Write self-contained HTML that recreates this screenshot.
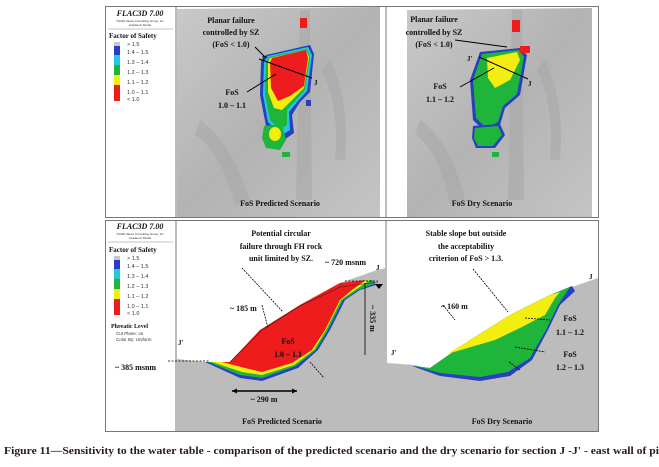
<!DOCTYPE html>
<html><head><meta charset="utf-8"><style>
body{margin:0;background:#fff;width:659px;height:467px;overflow:hidden}
svg{display:block}
.b{font-family:"Liberation Serif",serif;font-weight:bold;fill:#111}
.s{font-family:"Liberation Sans",sans-serif;fill:#333}
</style></head><body>
<svg width="659" height="467" viewBox="0 0 659 467">
<defs>
<linearGradient id="gmap" x1="0" y1="0" x2="1" y2="1">
<stop offset="0" stop-color="#c9c9c9"/><stop offset="0.5" stop-color="#b3b3b3"/><stop offset="1" stop-color="#c4c4c4"/></linearGradient>
</defs>
<g>
<rect x="105.5" y="6.5" width="493" height="211" fill="#fff" stroke="#777"/>
<line x1="176" y1="6" x2="176" y2="217" stroke="#777"/>
<line x1="386" y1="6" x2="386" y2="217" stroke="#777"/>
<g>
<text class="b" x="140" y="16" font-size="8" font-style="italic" text-anchor="middle">FLAC3D 7.00</text>
<text class="s" x="140" y="22" font-size="3" text-anchor="middle">©2020 Itasca Consulting Group, Inc</text>
<text class="s" x="140" y="26" font-size="3" text-anchor="middle">Academic Model</text>
<line x1="108" y1="29" x2="173" y2="29" stroke="#888" stroke-width="0.6"/>
<text class="b" x="109" y="38" font-size="7">Factor of Safety</text>
<rect x="114" y="42" width="6" height="4" fill="#c8c8c8"/>
<rect x="114" y="46" width="6" height="9" fill="#2a3fbf"/>
<rect x="114" y="55" width="6" height="10" fill="#22c8e0"/>
<rect x="114" y="65" width="6" height="10" fill="#1fb53a"/>
<rect x="114" y="75" width="6" height="10" fill="#f4ee10"/>
<rect x="114" y="85" width="6" height="16" fill="#ee1c1c"/>
<g class="s" font-size="5.5"><text x="127" y="46">&gt; 1.5</text><text x="127" y="54">1.4 – 1.5</text><text x="127" y="64">1.3 – 1.4</text><text x="127" y="74">1.2 – 1.3</text><text x="127" y="84">1.1 – 1.2</text><text x="127" y="94">1.0 – 1.1</text><text x="127" y="101">&lt; 1.0</text></g>
</g>
<g>
<path d="M177 9 L380 7 L380 217 L177 217 Z" fill="url(#gmap)"/>
<path d="M300 10 L310 10 L312 200 L296 200 Z" fill="#a9a9a9" opacity="0.6"/>
<path d="M200 120 Q230 140 250 200 L235 205 Q220 150 195 135 Z" fill="#a5a5a5" opacity="0.5"/>
<path d="M330 60 Q350 100 345 160 L335 160 Q340 110 322 70 Z" fill="#a5a5a5" opacity="0.5"/>
<path d="M266 55 L310 45 L314 54 L310 92 L300 102 L292 115 L294 133 L284 140 L266 126 L260 95 L261 62 Z" fill="#2a3fbf"/>
<path d="M268 56 L308 47 L312 55 L307 91 L298 101 L289 112 L290 130 L282 135 L268 122 L263 95 L264 62 Z" fill="#22c8e0"/>
<path d="M269 57 L307 49 L310 57 L305 90 L296 100 L287 110 L287 125 L280 130 L270 120 L265 95 L266 62 Z" fill="#1fb53a"/>
<path d="M270 58 L306 50 L309 57 L304 88 L292 100 L282 110 L274 108 L268 92 L268 62 Z" fill="#f4ee10"/>
<path d="M272 58 L306 50 L308 58 L304 86 L290 96 L278 101 L271 88 L270 62 Z" fill="#ee1c1c"/>
<path d="M264 126 L282 124 L286 140 L280 150 L266 148 L262 138 Z" fill="#1fb53a"/>
<ellipse cx="275" cy="134" rx="6" ry="7" fill="#f4ee10"/>
<rect x="282" y="152" width="8" height="5" fill="#1fb53a"/>
<rect x="306" y="100" width="5" height="6" fill="#2a3fbf"/>
<rect x="300" y="18" width="7" height="10" fill="#ee1c1c"/>
<path d="M255 47 L266 58 M259 59 L312 78 M247 92 L276 74" stroke="#000" stroke-width="1"/>
<text class="b" x="231" y="23" font-size="8" text-anchor="middle">Planar failure</text>
<text class="b" x="231" y="35" font-size="8" text-anchor="middle">controlled by SZ</text>
<text class="b" x="231" y="47" font-size="8" text-anchor="middle">(FoS &lt; 1.0)</text>
<text class="b" x="261" y="61" font-size="7">J'</text><text class="b" x="314" y="85" font-size="7">J</text>
<text class="b" x="232" y="95" font-size="8" text-anchor="middle">FoS</text>
<text class="b" x="232" y="108" font-size="8" text-anchor="middle">1.0 – 1.1</text>
<text class="b" x="280" y="206" font-size="8" text-anchor="middle">FoS Predicted Scenario</text>
</g>
<g>
<path d="M407 10 L592 8 L592 217 L407 217 Z" fill="url(#gmap)"/>
<path d="M512 10 L522 10 L524 200 L508 200 Z" fill="#a9a9a9" opacity="0.6"/>
<path d="M420 120 Q450 140 465 200 L450 205 Q440 150 415 135 Z" fill="#a5a5a5" opacity="0.5"/>
<path d="M545 60 Q565 100 560 160 L550 160 Q555 110 537 70 Z" fill="#a5a5a5" opacity="0.5"/>
<path d="M480 52 L520 48 L527 55 L520 95 L505 108 L500 125 L485 132 L473 120 L470 80 Z" fill="#2a3fbf"/>
<path d="M482 54 L519 50 L524 57 L517 94 L503 106 L498 122 L486 128 L476 118 L473 80 Z" fill="#1fb53a"/>
<path d="M487 58 L517 52 L520 60 L510 80 L495 88 L488 78 Z" fill="#f4ee10"/>
<path d="M473 126 L500 124 L505 135 L495 148 L476 148 L472 138 Z" fill="#2a3fbf"/>
<path d="M475 128 L498 126 L502 135 L493 146 L478 146 L474 138 Z" fill="#1fb53a"/>
<rect x="492" y="152" width="7" height="5" fill="#1fb53a"/>
<rect x="520" y="46" width="10" height="7" fill="#ee1c1c"/>
<rect x="512" y="20" width="8" height="12" fill="#ee1c1c"/>
<path d="M455 40 L507 47 M479 57 L528 79 M460 87 L494 68" stroke="#000" stroke-width="1"/>
<text class="b" x="434" y="22" font-size="8" text-anchor="middle">Planar failure</text>
<text class="b" x="434" y="35" font-size="8" text-anchor="middle">controlled by SZ</text>
<text class="b" x="434" y="47" font-size="8" text-anchor="middle">(FoS &lt; 1.0)</text>
<text class="b" x="467" y="61" font-size="7">J'</text><text class="b" x="528" y="86" font-size="7">J</text>
<text class="b" x="440" y="89" font-size="8" text-anchor="middle">FoS</text>
<text class="b" x="440" y="102" font-size="8" text-anchor="middle">1.1 – 1.2</text>
<text class="b" x="482" y="206" font-size="8" text-anchor="middle">FoS Dry Scenario</text>
</g>
</g>
<g>
<rect x="105.5" y="220.5" width="493" height="211" fill="#fff" stroke="#777"/>
<line x1="176" y1="220" x2="176" y2="431" stroke="#777"/>
<line x1="386" y1="220" x2="386" y2="431" stroke="#777"/>
<g>
<text class="b" x="140" y="229" font-size="8" font-style="italic" text-anchor="middle">FLAC3D 7.00</text>
<text class="s" x="140" y="235" font-size="3" text-anchor="middle">©2020 Itasca Consulting Group, Inc</text>
<text class="s" x="140" y="239" font-size="3" text-anchor="middle">Academic Model</text>
<line x1="108" y1="242" x2="173" y2="242" stroke="#888" stroke-width="0.6"/>
<text class="b" x="109" y="252" font-size="7">Factor of Safety</text>
<rect x="114" y="256" width="6" height="4" fill="#c8c8c8"/>
<rect x="114" y="260" width="6" height="9" fill="#2a3fbf"/>
<rect x="114" y="269" width="6" height="10" fill="#22c8e0"/>
<rect x="114" y="279" width="6" height="10" fill="#1fb53a"/>
<rect x="114" y="289" width="6" height="10" fill="#f4ee10"/>
<rect x="114" y="299" width="6" height="16" fill="#ee1c1c"/>
<g class="s" font-size="5.5"><text x="127" y="260">&gt; 1.5</text><text x="127" y="268">1.4 – 1.5</text><text x="127" y="278">1.3 – 1.4</text><text x="127" y="288">1.2 – 1.3</text><text x="127" y="298">1.1 – 1.2</text><text x="127" y="308">1.0 – 1.1</text><text x="127" y="315">&lt; 1.0</text></g>
<text class="b" x="111" y="328" font-size="6">Phreatic Level</text>
<text class="s" x="116" y="335" font-size="4.5">Cut Plane: on</text>
<text class="s" x="116" y="341" font-size="4.5">Color By: Uniform</text>
</g>
<g>
<path d="M177 359 L205 362 L230 362 L260 330 L300 305 L340 283 L377 270 L386 268 L386 431 L177 431 Z" fill="#bcbcbc"/>
<path d="M205 362 L230 362 L260 330 L300 305 L340 283 L372 280 L376 285 L360 290 L345 300 L330 330 L318 350 L298 368 L262 381 L240 378 Z" fill="#2a3fbf"/>
<path d="M208 362 L230 362 L260 330 L300 305 L340 283 L372 280 L374 284 L358 290 L343 300 L328 330 L316 350 L296 366 L262 378 L240 375 Z" fill="#1fb53a"/>
<path d="M212 362 L230 362 L260 330 L300 305 L340 283 L370 280 L355 290 L341 300 L326 330 L314 350 L294 365 L262 375 L242 372 Z" fill="#f4ee10"/>
<path d="M222 362 L230 362 L260 330 L300 305 L340 283 L366 280 L352 290 L340 300 L325 330 L312 350 L292 363 L262 372 L245 368 Z" fill="#ee1c1c"/>
<path d="M168 361 L210 361 M345 281 L378 281" stroke="#000" stroke-dasharray="2 1.5" stroke-width="0.8"/>
<path d="M230 362 L262 330 L300 306 L340 287 L378 282" stroke="#222" stroke-width="0.6" fill="none"/>
<path d="M232 391 L297 391" stroke="#000" stroke-width="1.5"/>
<path d="M232 391 l5 -2.5 v5 z M297 391 l-5 -2.5 v5 z" fill="#000"/>
<path d="M365 283 V355" stroke="#000" stroke-width="0.8"/>
<path d="M375 284 l4 5 l4 -5 z" fill="#000"/>
<path d="M242 268 L283 312 M262 305 L268 328 M310 362 L324 378" stroke="#000" stroke-width="0.8" stroke-dasharray="2 1"/>
<text class="b" x="281" y="236" font-size="8" text-anchor="middle">Potential circular</text>
<text class="b" x="281" y="249" font-size="8" text-anchor="middle">failure through FH rock</text>
<text class="b" x="281" y="261" font-size="8" text-anchor="middle">unit limited by SZ.</text>
<text class="b" x="325" y="265" font-size="8">~ 720 msnm</text>
<text class="b" x="376" y="270" font-size="7">J</text>
<text class="b" x="178" y="345" font-size="7">J'</text>
<text class="b" x="115" y="370" font-size="8">~ 385 msnm</text>
<text class="b" x="230" y="311" font-size="8">~ 185 m</text>
<text class="b" x="288" y="344" font-size="8" text-anchor="middle">FoS</text>
<text class="b" x="288" y="357" font-size="8" text-anchor="middle">1.0 – 1.1</text>
<text class="b" x="264" y="402" font-size="8" text-anchor="middle">~ 290 m</text>
<text class="b" x="370" y="305" font-size="8" transform="rotate(90 370 305)">~ 335 m</text>
<text class="b" x="282" y="424" font-size="8" text-anchor="middle">FoS Predicted Scenario</text>
</g>
<g>
<path d="M387 363 L415 365 L440 372 L480 345 L530 310 L572 287 L598 278 L598 431 L387 431 Z" fill="#bcbcbc"/>
<path d="M412 366 L430 368 L470 340 L510 315 L550 295 L572 286 L575 291 L560 305 L548 330 L532 360 L510 376 L480 381 L440 376 Z" fill="#2a3fbf"/>
<path d="M415 366 L430 368 L470 340 L510 315 L550 295 L570 287 L558 305 L546 330 L530 358 L508 372 L480 377 L440 373 Z" fill="#1fb53a"/>
<path d="M447 354 L470 340 L510 315 L550 295 L560 292 L555 298 L545 315 L520 328 L495 340 Z" fill="#f4ee10"/>
<path d="M473 269 L508 312 M443 305 L455 320 M525 318 L550 320 M515 347 L545 352 M509 362 L520 370" stroke="#000" stroke-width="0.8" stroke-dasharray="2 1"/>
<text class="b" x="466" y="236" font-size="8" text-anchor="middle">Stable slope but outside</text>
<text class="b" x="466" y="249" font-size="8" text-anchor="middle">the acceptability</text>
<text class="b" x="466" y="261" font-size="8" text-anchor="middle">criterion of FoS &gt; 1.3.</text>
<text class="b" x="589" y="279" font-size="7">J</text>
<text class="b" x="391" y="355" font-size="7">J'</text>
<text class="b" x="441" y="309" font-size="8">~ 160 m</text>
<text class="b" x="570" y="321" font-size="8" text-anchor="middle">FoS</text>
<text class="b" x="570" y="335" font-size="8" text-anchor="middle">1.1 – 1.2</text>
<text class="b" x="570" y="357" font-size="8" text-anchor="middle">FoS</text>
<text class="b" x="570" y="370" font-size="8" text-anchor="middle">1.2 – 1.3</text>
<text class="b" x="502" y="424" font-size="8" text-anchor="middle">FoS Dry Scenario</text>
</g>
</g>
<text x="4" y="454" font-family="Liberation Serif, serif" font-weight="bold" font-size="10" fill="#2a1a1a" textLength="655" lengthAdjust="spacingAndGlyphs">Figure 11—Sensitivity to the water table - comparison of the predicted scenario and the dry scenario for section J -J' - east wall of pi</text>
</svg>
</body></html>
